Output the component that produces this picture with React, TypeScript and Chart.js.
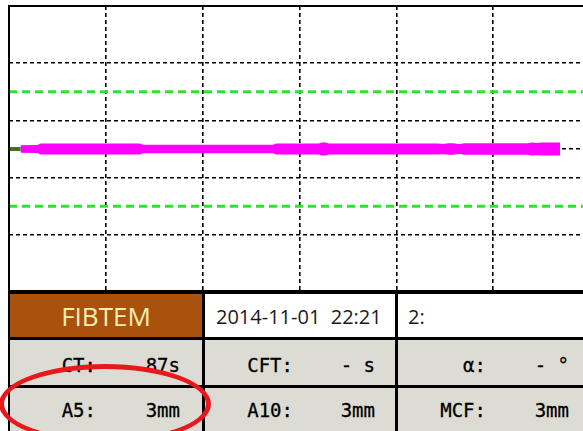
import React, { useEffect, useRef } from "react";
import { Chart, registerables } from "chart.js";

Chart.register(...registerables);

// ---- data (time in minutes, amplitude in mm) ----
const timeMin = [1.2, 2.9, 3.3, 13.5, 13.8, 27.3, 27.6, 32.0, 32.3, 32.7, 33.0, 44.3, 44.8, 45.4, 45.9, 46.5, 47.0, 47.6, 53.6, 54.0, 54.5, 55.0, 56.9];
const amplitudeMm = [2.1, 2.2, 3.4, 3.4, 2.5, 2.5, 3.4, 3.4, 4.0, 4.0, 3.4, 3.4, 2.9, 3.5, 3.5, 2.8, 3.5, 3.5, 3.5, 4.0, 3.6, 4.0, 4.0];
const preCtTime = [0, 1.2];
const refLevels = [20, -20];
const xRange = [0, 60];
const yRange = [-50, 50];
const xGridTicks = [0, 10, 20, 30, 40, 50, 60];
const yGridTicks = [-30, -10, 0, 10, 30];

// ---- table text ----
const testName = "FIBTEM";
const runDate = "2014-11-01  22:21";
const channel = "2:";
const paramLabels = [
  ["CT:", "CFT:", "α:"],
  ["A5:", "A10:", "MCF:"],
];
const paramValues = [
  ["87s", "- s", "- °"],
  ["3mm", "3mm", "3mm"],
];

const W = 583;
const colX = [10, 205, 398];
const colW = [192, 190, 185];
const rowY = [294, 340, 388];
const rowH = [43, 45, 43];
const labelEnd = [96, 293, 486];
const valueEnd = [180, 375, 569];
const textTop = [354, 399];

const framePlugin = {
  id: "frame",
  afterDraw(chart: any) {
    const { ctx, chartArea } = chart;
    const { left, top, right, bottom } = chartArea;
    ctx.save();
    ctx.strokeStyle = "#000";
    ctx.lineWidth = 2;
    ctx.beginPath();
    ctx.moveTo(left, bottom);
    ctx.lineTo(left, top);
    ctx.lineTo(right, top);
    ctx.stroke();
    ctx.restore();
  },
};

function TraceChart() {
  const ref = useRef<HTMLCanvasElement | null>(null);
  useEffect(() => {
    if (!ref.current) return;
    const gridOpts = { color: "#000", lineWidth: 1.6, drawTicks: false };
    const chart = new Chart(ref.current, {
      type: "line",
      data: {
        datasets: [
          ...refLevels.map((v) => ({
            data: xRange.map((x) => ({ x, y: v })),
            borderColor: "#2fe22f",
            borderWidth: 3,
            borderDash: [8, 5],
            pointRadius: 0,
            fill: false,
          })),
          {
            data: preCtTime.map((x) => ({ x, y: 0 })),
            borderColor: "#4d6a2a",
            borderWidth: 4,
            pointRadius: 0,
            fill: false,
          },
          {
            data: timeMin.map((t, i) => ({ x: t, y: amplitudeMm[i] / 2 })),
            borderColor: "#ff00ff",
            backgroundColor: "#ff00ff",
            borderWidth: 1.5,
            pointRadius: 0,
            fill: "+1",
          },
          {
            data: timeMin.map((t, i) => ({ x: t, y: -amplitudeMm[i] / 2 })),
            borderColor: "#ff00ff",
            borderWidth: 1.5,
            pointRadius: 0,
            fill: false,
          },
        ],
      },
      options: {
        responsive: false,
        animation: false,
        events: [],
        layout: { padding: { left: 9, top: 6, right: 10, bottom: 0 } },
        plugins: { legend: { display: false }, tooltip: { enabled: false } },
        elements: { line: { tension: 0 } },
        scales: {
          x: {
            type: "linear",
            min: xRange[0],
            max: xRange[1],
            ticks: { display: false },
            grid: gridOpts,
            border: { display: false, dash: [4, 3] },
            afterBuildTicks: (s: any) => {
              s.ticks = xGridTicks.map((v) => ({ value: v }));
            },
          },
          y: {
            type: "linear",
            min: yRange[0],
            max: yRange[1],
            ticks: { display: false },
            grid: gridOpts,
            border: { display: false, dash: [4, 3] },
            afterBuildTicks: (s: any) => {
              s.ticks = yGridTicks.map((v) => ({ value: v }));
            },
          },
        },
      } as any,
      plugins: [framePlugin],
    });
    return () => chart.destroy();
  }, []);
  return (
    <canvas
      ref={ref}
      width={600}
      height={292}
      style={{ position: "absolute", left: 0, top: 0, display: "block" }}
    />
  );
}

export default function App() {
  const mono = "'DejaVu Sans Mono', monospace";
  const sans = "'Open Sans', 'Noto Sans', sans-serif";
  return (
    <div
      style={{
        position: "absolute",
        left: 0,
        top: 0,
        width: W,
        height: 431,
        overflow: "hidden",
        background: "#fff",
      }}
    >
      <TraceChart />
      {/* table black background (borders) */}
      <div style={{ position: "absolute", left: 8, top: 290, width: W - 8, height: 141, background: "#000" }} />
      {/* row 1 */}
      <div style={{ position: "absolute", left: colX[0], top: rowY[0], width: colW[0], height: rowH[0], background: "#a8520e" }} />
      <div style={{ position: "absolute", left: colX[1], top: rowY[0], width: colW[1], height: rowH[0], background: "#fff" }} />
      <div style={{ position: "absolute", left: colX[2], top: rowY[0], width: colW[2] + 10, height: rowH[0], background: "#fff" }} />
      {/* rows 2,3 */}
      {[1, 2].map((r) =>
        colX.map((x, c) => (
          <div
            key={`bg${r}${c}`}
            style={{ position: "absolute", left: x, top: rowY[r], width: colW[c] + (c === 2 ? 10 : 0), height: rowH[r], background: "#dcdbd4" }}
          />
        ))
      )}
      <div
        style={{
          position: "absolute",
          left: colX[0],
          top: 303,
          width: colW[0],
          textAlign: "center",
          fontFamily: sans,
          fontSize: 26,
          lineHeight: "26px",
          color: "#f7efb0",
        }}
      >
        {testName}
      </div>
      <div style={{ position: "absolute", left: 216, top: 307, fontFamily: sans, fontSize: 20, lineHeight: "20px", color: "#1a1a1a", whiteSpace: "pre" }}>
        {runDate}
      </div>
      <div style={{ position: "absolute", left: 408, top: 307, fontFamily: sans, fontSize: 20, lineHeight: "20px", color: "#1a1a1a", whiteSpace: "pre" }}>
        {channel}
      </div>
      {paramLabels.map((row, r) =>
        row.map((lab, c) => (
          <React.Fragment key={`p${r}${c}`}>
            <span
              style={{ position: "absolute", right: W - labelEnd[c], top: textTop[r], fontFamily: mono, fontSize: 19, lineHeight: "22px", color: "#000", whiteSpace: "pre", WebkitTextStroke: "0.3px #000" }}
            >
              {lab}
            </span>
            <span
              style={{ position: "absolute", right: W - valueEnd[c], top: textTop[r], fontFamily: mono, fontSize: 19, lineHeight: "22px", color: "#000", whiteSpace: "pre", WebkitTextStroke: "0.3px #000" }}
            >
              {paramValues[r][c]}
            </span>
          </React.Fragment>
        ))
      )}
      {/* red annotation ellipse */}
      <div
        style={{
          position: "absolute",
          left: -1,
          top: 364,
          width: 212,
          height: 80,
          boxSizing: "border-box",
          border: "5px solid #e8181c",
          borderRadius: "50%",
        }}
      />
    </div>
  );
}
